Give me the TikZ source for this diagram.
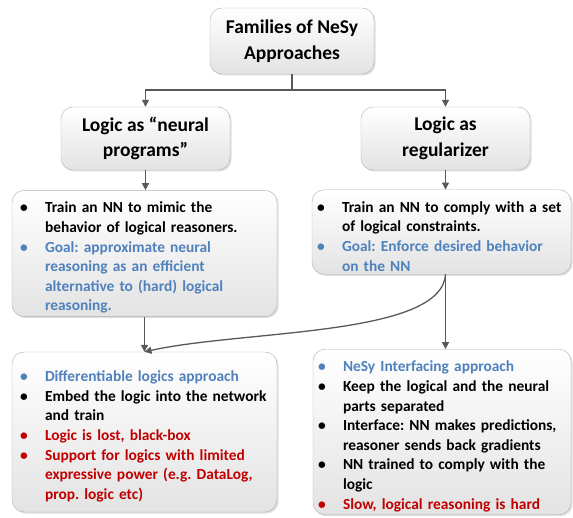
\documentclass[tikz,border=0pt]{standalone}
\usepackage{fontspec}
\setmainfont{Carlito}
\usetikzlibrary{arrows.meta, positioning, shadows, calc}
\definecolor{goalblue}{RGB}{79,129,189}
\definecolor{conred}{RGB}{192,0,0}
\definecolor{linegray}{RGB}{89,89,89}
\definecolor{boxgray}{RGB}{175,175,175}
\frenchspacing
\newcommand{\bitem}[2]{\par\noindent\hangindent=25pt\hangafter=1\makebox[25pt][l]{\textcolor{#1}{\textbullet}}\textcolor{#1}{#2}\par}

\begin{document}
\begin{tikzpicture}[x=1pt, y=1pt,
    family/.style = {rectangle, draw=boxgray, top color=white, bottom color=gray!22, rounded corners=12pt, drop shadow={opacity=0.25, shadow xshift=1.5pt, shadow yshift=-1.5pt}},
    head/.style = {family, align=center, font=\bfseries\fontsize{19.5}{25.5}\selectfont, minimum width=169pt, minimum height=63pt},
    info/.style = {family, align=left, font=\bfseries\fontsize{15.4}{19.6}\selectfont\frenchspacing, inner xsep=8pt, inner ysep=3pt},
    plain/.style = {draw=linegray, line width=1.3pt},
    link/.style = {plain, -{Triangle[length=7pt, width=7pt]}}
]
\useasboundingbox (0,0) rectangle (573,517);

\node (top) [head, minimum width=164pt, minimum height=66pt] at (292,476) {Families of NeSy\\Approaches};
\node (lneu) [head] at (145.5,378.5) {Logic as “neural\\programs”};
\node (lreg) [head] at (445.5,378.5) {Logic as\\regularizer};

\node (lmid) [info, text width=249pt, minimum height=123pt] at (144.5,263.5) {%
\bitem{black}{Train an NN to mimic the\newline behavior of logical reasoners.}
\bitem{goalblue}{Goal: approximate neural\newline reasoning as an efficient\newline alternative to (hard) logical\newline reasoning.}};
\node (rmid) [info, inner xsep=5pt, text width=249pt, minimum height=80pt] at (441.5,285) {%
\bitem{black}{Train an NN to comply with a set\newline of logical constraints.}
\bitem{goalblue}{Goal: Enforce desired behavior\newline on the NN}};

\node (lbot) [info, text width=249pt, minimum height=160pt] at (144.5,85) {%
\bitem{goalblue}{Differentiable logics approach}
\bitem{black}{Embed the logic into the network\newline and train}
\bitem{conred}{Logic is lost, black-box}
\bitem{conred}{Support for logics with limited\newline expressive power (e.g. DataLog,\newline prop. logic etc)}};
\node (rbot) [info, inner xsep=5pt, text width=248pt, minimum height=160pt] at (442,85) {%
\bitem{goalblue}{NeSy Interfacing approach}
\bitem{black}{Keep the logical and the neural\newline parts separated}
\bitem{black}{Interface: NN makes predictions,\newline reasoner sends back gradients}
\bitem{black}{NN trained to comply with the\newline logic}
\bitem{conred}{Slow, logical reasoning is hard}};

\coordinate (fork) at (292,427);
\draw [plain] (top.south) -- (fork);
\draw [link] (fork) -| (lneu.north);
\draw [link] (fork) -| (lreg.north);
\draw [link] (lneu.south) -- (lneu.south |- lmid.north);
\draw [link] (lreg.south) -- (lreg.south |- rmid.north);
\draw [link] (lmid.south) -- (lbot.north);
\draw [link] (lreg.south |- rmid.south) -- (lreg.south |- rbot.north);
\draw [link] (lreg.south |- rmid.south) .. controls +(-4,-62) and +(100,22) .. (lbot.north);

\end{tikzpicture}
\end{document}
